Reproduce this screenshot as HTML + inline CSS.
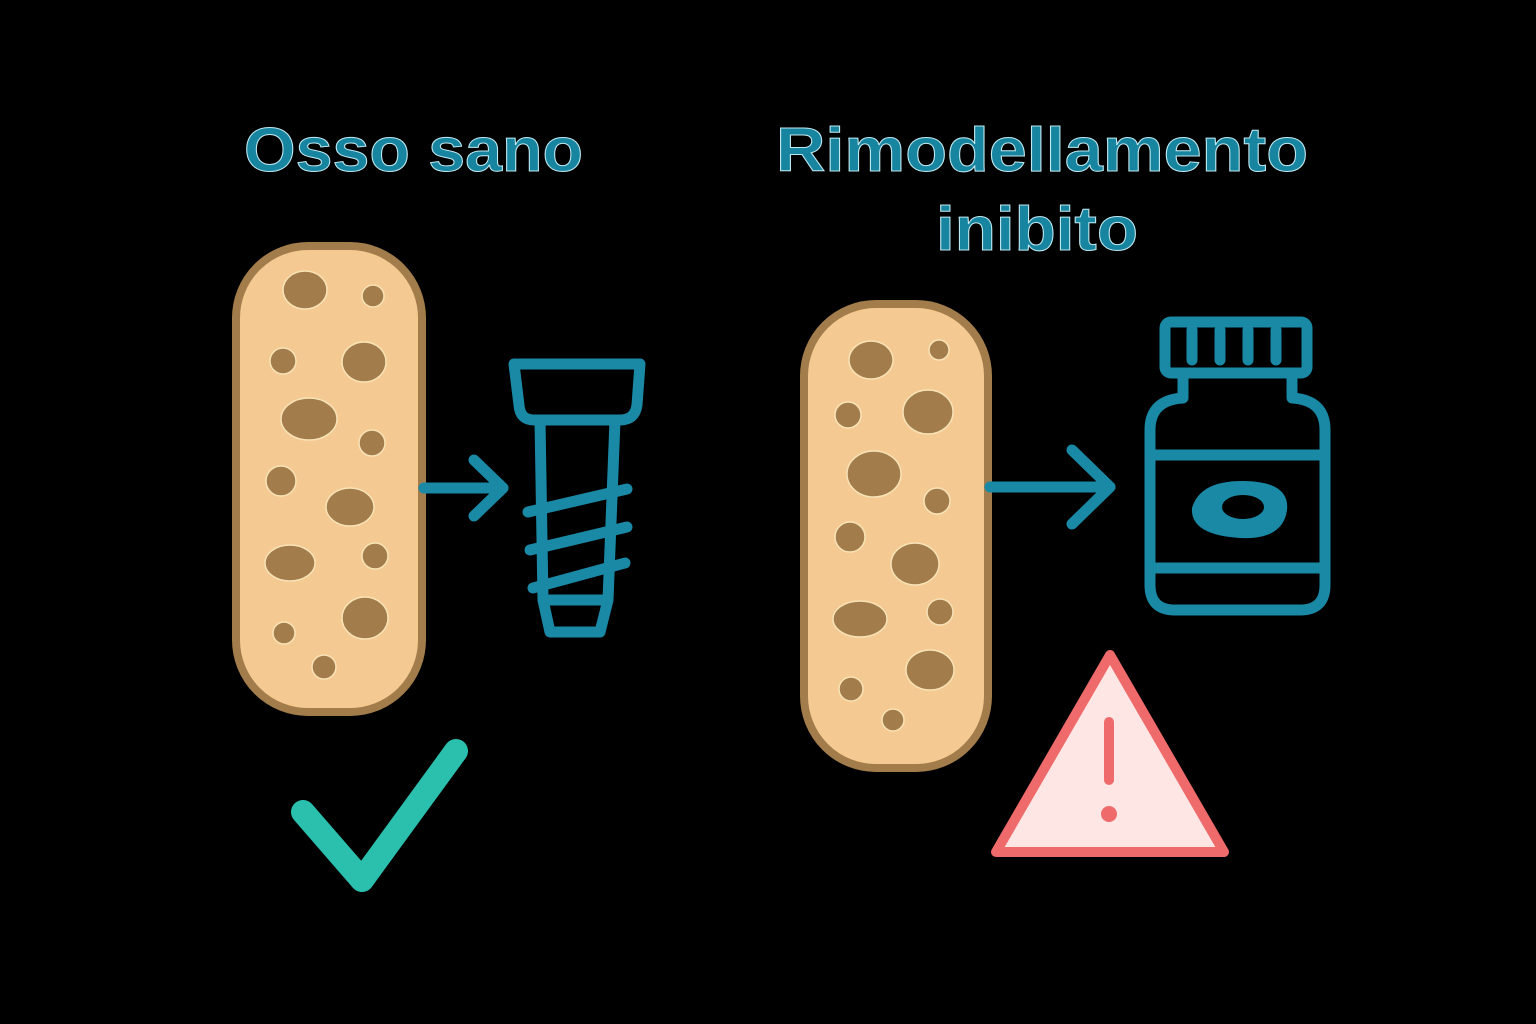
<!DOCTYPE html>
<html><head><style>html,body{margin:0;padding:0;background:#000;width:1536px;height:1024px;overflow:hidden}</style></head>
<body>
<svg width="1536" height="1024" viewBox="0 0 1536 1024" xmlns="http://www.w3.org/2000/svg">
<rect width="1536" height="1024" fill="#000"/>
<g font-family="'Liberation Sans', 'DejaVu Sans', sans-serif" font-size="62" font-weight="bold" fill="#1784a0" stroke="#bfe8f0" stroke-width="1" lengthAdjust="spacingAndGlyphs">
<text x="244" y="171" textLength="339" lengthAdjust="spacingAndGlyphs">Osso sano</text>
<text x="776" y="171" textLength="532" lengthAdjust="spacingAndGlyphs">Rimodellamento</text>
<text x="936" y="250" textLength="202" lengthAdjust="spacingAndGlyphs">inibito</text>
</g>
<!-- left bone -->
<rect x="236" y="246" width="186" height="466" rx="72" fill="#f5c992" stroke="#a27d4b" stroke-width="8"/>
<g fill="#a27d4b" stroke="#f8e3b6" stroke-width="1.5">
<ellipse cx="305" cy="290" rx="22" ry="19"/><circle cx="373" cy="296" r="11"/>
<circle cx="283" cy="361" r="13"/><ellipse cx="364" cy="362" rx="22" ry="20"/>
<ellipse cx="309" cy="419" rx="28" ry="21"/><circle cx="372" cy="443" r="13"/>
<circle cx="281" cy="481" r="15"/><ellipse cx="350" cy="507" rx="24" ry="19"/>
<ellipse cx="290" cy="563" rx="25" ry="18"/><circle cx="375" cy="556" r="13"/>
<ellipse cx="365" cy="618" rx="23" ry="21"/><circle cx="284" cy="633" r="11"/>
<circle cx="324" cy="667" r="12"/>
</g>
<g stroke="#1a89a6" stroke-width="11" fill="none" stroke-linecap="round" stroke-linejoin="round">
<line x1="424" y1="488" x2="503" y2="488"/>
<polyline points="474,460 503,488 474,516"/>
<path d="M514,364 L640,364 L637,405 Q635,420 620,420 L534,420 Q520,420 519,405 Z"/>
<path d="M540,420 L543,600 L550,632 L600,632 L608,600 L615,420"/>
<line x1="543" y1="600" x2="608" y2="600"/>
<line x1="528" y1="512" x2="627" y2="489"/>
<line x1="530" y1="550" x2="627" y2="527"/>
<line x1="533" y1="588" x2="625" y2="563"/>
</g>
<polyline points="303,812 362,880 456,751" fill="none" stroke="#2bbfae" stroke-width="24" stroke-linecap="round" stroke-linejoin="round"/>
<!-- right bone -->
<rect x="804" y="304" width="184" height="464" rx="72" fill="#f5c992" stroke="#a27d4b" stroke-width="8"/>
<g fill="#a27d4b" stroke="#f8e3b6" stroke-width="1.5">
<ellipse cx="871" cy="360" rx="22" ry="19"/><circle cx="939" cy="350" r="10"/>
<circle cx="848" cy="415" r="13"/><ellipse cx="928" cy="412" rx="25" ry="22"/>
<ellipse cx="874" cy="474" rx="27" ry="23"/><circle cx="937" cy="501" r="13"/>
<circle cx="850" cy="537" r="15"/><ellipse cx="915" cy="564" rx="24" ry="21"/>
<ellipse cx="860" cy="619" rx="27" ry="18"/><circle cx="940" cy="612" r="13"/>
<ellipse cx="930" cy="670" rx="24" ry="20"/><circle cx="851" cy="689" r="12"/>
<circle cx="893" cy="720" r="11"/>
</g>
<g stroke="#1a89a6" stroke-width="11" fill="none" stroke-linecap="round" stroke-linejoin="round">
<line x1="990" y1="487" x2="1110" y2="487"/>
<polyline points="1072,450 1110,487 1072,524"/>
<rect x="1165" y="322" width="142" height="51" rx="6"/>
<line x1="1192" y1="330" x2="1192" y2="360"/><line x1="1220" y1="330" x2="1220" y2="360"/>
<line x1="1248" y1="330" x2="1248" y2="360"/><line x1="1276" y1="330" x2="1276" y2="360"/>
<path d="M1183,373 L1183,398 Q1150,400 1150,430 L1150,585 Q1150,610 1175,610 L1300,610 Q1325,610 1325,585 L1325,430 Q1325,400 1292,398 L1292,373"/>
<line x1="1150" y1="455" x2="1325" y2="455"/>
<line x1="1150" y1="568" x2="1325" y2="568"/>
</g>
<path d="M1192,508 Q1200,480 1245,481 Q1290,482 1287,510 Q1283,540 1240,538 Q1190,535 1192,508 Z" fill="#1a89a6"/>
<ellipse cx="1243" cy="507" rx="21" ry="12" fill="#000"/>
<path d="M1110,655 L1224,852 L996,852 Z" fill="#fde6e4" stroke="#ef6b6b" stroke-width="10" stroke-linejoin="round"/>
<line x1="1109" y1="722" x2="1109" y2="780" stroke="#ef6b6b" stroke-width="10" stroke-linecap="round"/>
<circle cx="1109" cy="814" r="8" fill="#ef6b6b"/>
</svg>
</body></html>
